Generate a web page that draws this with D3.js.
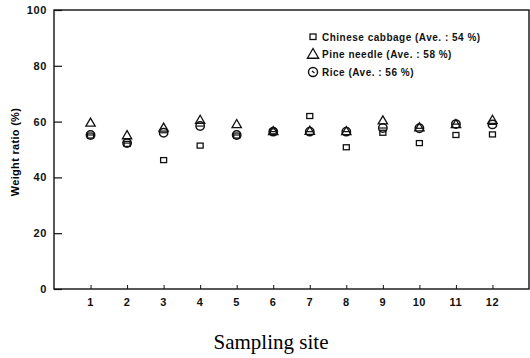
<!DOCTYPE html>
<html>
<head>
<meta charset="utf-8">
<script src="https://cdn.jsdelivr.net/npm/d3@7"></script>
<style>
  body { margin: 0; background: #fff; }
  svg { display: block; }
  .tick-label { font-family: "Liberation Sans", Arial, sans-serif; font-weight: bold; font-size: 11px; letter-spacing: 0.6px; fill: #111; }
  .legend-label { font-family: "Liberation Sans", Arial, sans-serif; font-weight: bold; font-size: 10px; letter-spacing: 0.5px; fill: #111; }
</style>
</head>
<body>
<div id="wrapper"></div>
<script>
// data
const sites = [1, 2, 3, 4, 5, 6, 7, 8, 9, 10, 11, 12];
const cabbage = [55, 52, 46.2, 51.4, 55, 56.5, 62, 50.8, 56, 52.3, 55.2, 55.4];
const pineNeedle = [59.5, 55, 57.7, 60.5, 59, 56.5, 56.6, 56.5, 60.3, 57.8, 59, 60.5];
const rice = [55.2, 52.3, 56, 58.4, 55.2, 56.4, 56.4, 56.4, 57.7, 57.6, 59.1, 59];
const yTicks = [0, 20, 40, 60, 80, 100];
const legendLabels = [
  "Chinese cabbage (Ave. : 54 %)",
  "Pine needle  (Ave. : 58 %)",
  "Rice (Ave. : 56 %)",
];

function drawChart() {
  const dimensions = {
    width: 530,
    height: 358,
    margin: { top: 10, right: 1, bottom: 69, left: 54 },
  };
  dimensions.boundedWidth = dimensions.width - dimensions.margin.left - dimensions.margin.right;
  dimensions.boundedHeight = dimensions.height - dimensions.margin.top - dimensions.margin.bottom;

  const wrapper = d3.select("#wrapper")
    .append("svg")
    .attr("width", dimensions.width)
    .attr("height", dimensions.height);

  const bounds = wrapper.append("g")
    .attr("transform", `translate(${dimensions.margin.left},${dimensions.margin.top})`);

  const xScale = d3.scaleLinear().domain([0, 13]).range([0, dimensions.boundedWidth]);
  const yScale = d3.scaleLinear().domain([0, 100]).range([dimensions.boundedHeight, 0]);

  // frame
  bounds.append("rect")
    .attr("width", dimensions.boundedWidth)
    .attr("height", dimensions.boundedHeight)
    .attr("fill", "none")
    .attr("stroke", "#111")
    .attr("stroke-width", 1.4);

  // y axis (ticks point inward)
  const yAxis = bounds.append("g")
    .call(d3.axisRight(yScale).tickValues(yTicks).tickSize(8).tickFormat(""));
  yAxis.select(".domain").remove();
  yAxis.selectAll(".tick line").attr("stroke", "#111").attr("stroke-width", 1.2);
  bounds.selectAll(".y-label")
    .data(yTicks)
    .join("text")
    .attr("class", "tick-label")
    .attr("x", -7)
    .attr("y", (d) => yScale(d) + 4)
    .attr("text-anchor", "end")
    .text((d) => d);

  // x axis (small ticks pointing up)
  const xAxis = bounds.append("g")
    .attr("transform", `translate(0,${dimensions.boundedHeight})`)
    .call(d3.axisTop(xScale).tickValues(sites).tickSize(4).tickFormat(""));
  xAxis.select(".domain").remove();
  xAxis.selectAll(".tick line").attr("stroke", "#111").attr("stroke-width", 1);
  bounds.selectAll(".x-label")
    .data(sites)
    .join("text")
    .attr("class", "tick-label")
    .attr("x", (d) => xScale(d))
    .attr("y", dimensions.boundedHeight + 17)
    .attr("text-anchor", "middle")
    .text((d) => d);

  // axis titles
  wrapper.append("text")
    .attr("transform", `translate(19,152) rotate(-90)`)
    .attr("text-anchor", "middle")
    .style("font-family", '"Liberation Sans", Arial, sans-serif')
    .style("font-weight", "bold")
    .style("font-size", "11px")
    .style("letter-spacing", "0.3px")
    .text("Weight ratio (%)");

  wrapper.append("text")
    .attr("x", 271)
    .attr("y", 349)
    .attr("text-anchor", "middle")
    .style("font-family", '"Liberation Serif", "Times New Roman", serif')
    .style("font-size", "21px")
    .text("Sampling site");

  // markers
  const triangle = d3.symbol().type(d3.symbolTriangle).size(38);

  bounds.append("g").selectAll("rect")
    .data(sites)
    .join("rect")
    .attr("x", (d, i) => xScale(d) - 3)
    .attr("y", (d, i) => yScale(cabbage[i]) - 2.5)
    .attr("width", 6)
    .attr("height", 5)
    .attr("fill", "#fff")
    .attr("stroke", "#111")
    .attr("stroke-width", 1.3);

  bounds.append("g").selectAll("path")
    .data(sites)
    .join("path")
    .attr("d", triangle)
    .attr("transform", (d, i) => `translate(${xScale(d)},${yScale(pineNeedle[i]) + 0.5})`)
    .attr("fill", "none")
    .attr("stroke", "#111")
    .attr("stroke-width", 1.3);

  const riceDots = bounds.append("g").selectAll("g")
    .data(sites)
    .join("g")
    .attr("transform", (d, i) => `translate(${xScale(d)},${yScale(rice[i])})`);
  riceDots.append("circle")
    .attr("r", 4.2)
    .attr("fill", "none")
    .attr("stroke", "#111")
    .attr("stroke-width", 1.5);
  riceDots.append("line")
    .attr("x1", -3.5).attr("x2", 3.5)
    .attr("stroke", "#111")
    .attr("stroke-width", 1.2);

  // legend
  const legend = wrapper.append("g").attr("transform", "translate(313,37)");
  const rowGap = 17.5;
  legend.append("rect")
    .attr("x", -3).attr("y", -3).attr("width", 6).attr("height", 5.5)
    .attr("fill", "none").attr("stroke", "#111").attr("stroke-width", 1.3);
  legend.append("path")
    .attr("d", d3.symbol().type(d3.symbolTriangle).size(55))
    .attr("transform", `translate(0,${rowGap + 0.5})`)
    .attr("fill", "none").attr("stroke", "#111").attr("stroke-width", 1.3);
  legend.append("circle")
    .attr("cy", rowGap * 2).attr("r", 4.5)
    .attr("fill", "none").attr("stroke", "#111").attr("stroke-width", 1.4);
  legend.append("line")
    .attr("x1", -1).attr("x2", 1.5).attr("y1", rowGap * 2 - 1).attr("y2", rowGap * 2 + 1)
    .attr("stroke", "#111").attr("stroke-width", 1.2);
  legend.selectAll(".legend-label")
    .data(legendLabels)
    .join("text")
    .attr("class", "legend-label")
    .attr("x", 9)
    .attr("y", (d, i) => i * rowGap + 3.5)
    .text((d) => d);
}
drawChart();
</script>
</body>
</html>
